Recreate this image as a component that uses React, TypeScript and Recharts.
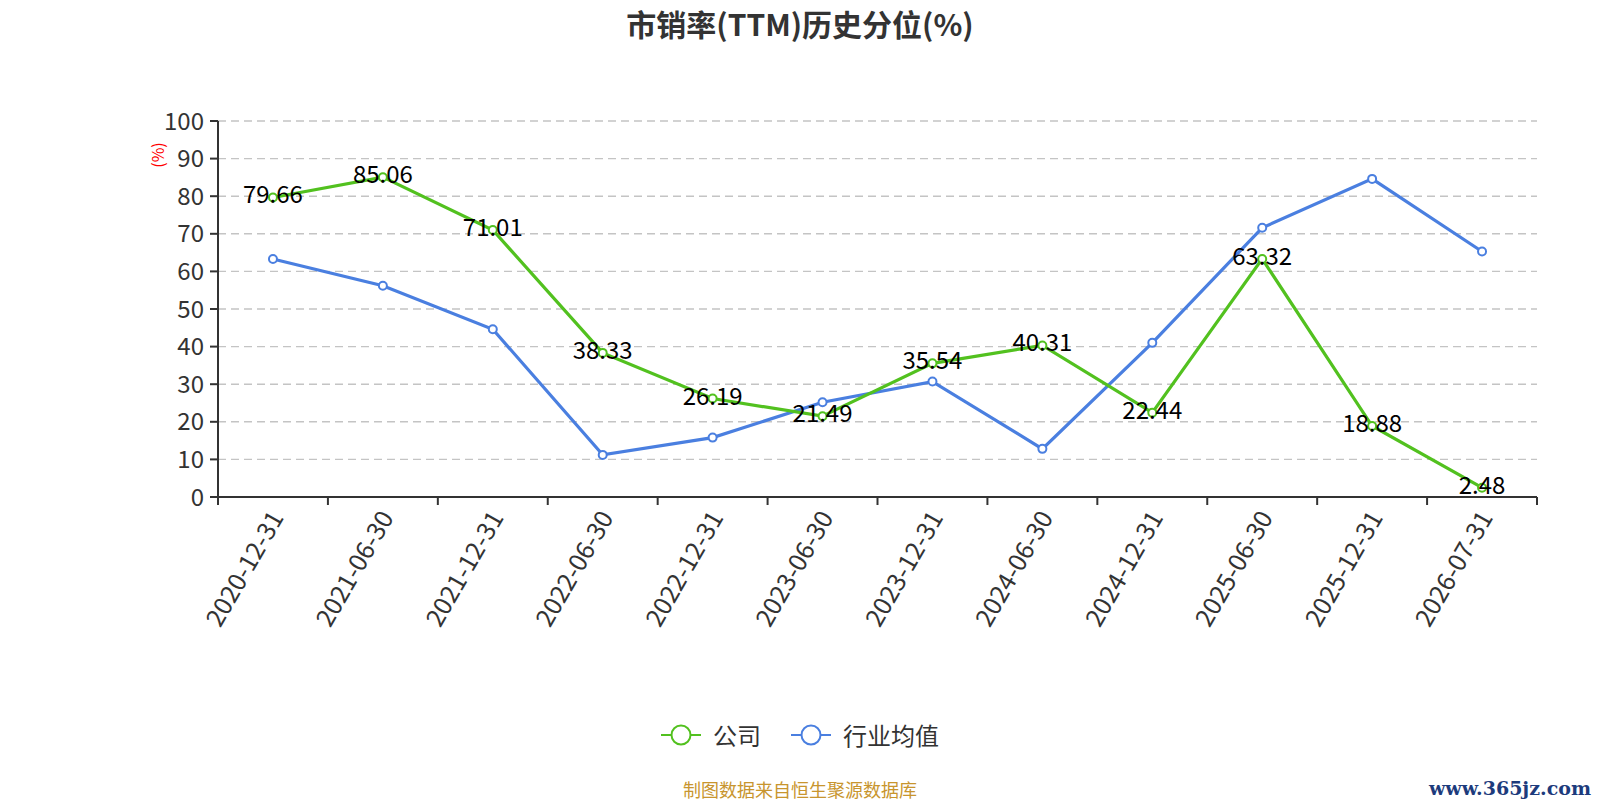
import React from 'react';
import { LineChart, Line, XAxis, YAxis, CartesianGrid, Legend, LabelList } from 'recharts';

const dates = [
  '2020-12-31', '2021-06-30', '2021-12-31', '2022-06-30', '2022-12-31', '2023-06-30',
  '2023-12-31', '2024-06-30', '2024-12-31', '2025-06-30', '2025-12-31', '2026-07-31',
];
const companyValues = [79.66, 85.06, 71.01, 38.33, 26.19, 21.49, 35.54, 40.31, 22.44, 63.32, 18.88, 2.48];
const industryValues = [63.3, 56.2, 44.6, 11.2, 15.8, 25.2, 30.7, 12.8, 41.0, 71.6, 84.6, 65.3];
const yTicks = [0, 10, 20, 30, 40, 50, 60, 70, 80, 90, 100];
const seriesNames = ['公司', '行业均值'];
const seriesColors = ['#52c11f', '#4a7fe0'];

const FONT = '"Noto Sans CJK SC", "Noto Sans", sans-serif';

// x is numeric: category i sits at i + 0.5, so whole numbers are the band edges
const data = dates.map((d, i) => ({
  x: i + 0.5,
  date: d,
  company: companyValues[i],
  industry: industryValues[i],
}));
const xTicks: number[] = [];
for (let i = 0; i <= dates.length * 2; i++) xTicks.push(i / 2);

const XTick = ({ x, y, payload }: any) => {
  const v = payload.value;
  if (Number.isInteger(v)) {
    return <line x1={x} y1={y} x2={x} y2={y + 8} stroke="#333" strokeWidth={2} />;
  }
  const label = dates[Math.floor(v)];
  return (
    <text
      x={x + 4}
      y={y + 16}
      transform={`rotate(-60 ${x + 4} ${y + 16})`}
      textAnchor="end"
      dy="0.35em"
      fontSize={25}
      fill="#333"
      fontFamily={FONT}
    >
      {label}
    </text>
  );
};

const ValueLabel = ({ x, y, value }: any) => (
  <text x={x} y={y + 6} textAnchor="middle" fontSize={24} fill="#000" fontFamily={FONT}>
    {value}
  </text>
);

const LegendContent = () => (
  <div style={{ display: 'flex', justifyContent: 'center', alignItems: 'center', gap: 30, fontFamily: FONT }}>
    {seriesNames.map((name, i) => (
      <div key={name} style={{ display: 'flex', alignItems: 'center', gap: 12 }}>
        <svg width={40} height={24}>
          <line x1={0} y1={12} x2={40} y2={12} stroke={seriesColors[i]} strokeWidth={2} />
          <circle cx={20} cy={12} r={9.5} fill="#fff" stroke={seriesColors[i]} strokeWidth={2} />
        </svg>
        <span style={{ fontSize: 24, color: '#333' }}>{name}</span>
      </div>
    ))}
  </div>
);

export default function App() {
  return (
    <div style={{ position: 'absolute', left: 0, top: 0, width: 1600, height: 800, background: '#fff', fontFamily: FONT }}>
      <div
        style={{
          position: 'absolute', left: 0, top: 3, width: 1600, textAlign: 'center',
          fontSize: 30, fontWeight: 'bold', color: '#333', lineHeight: '40px',
        }}
      >
        市销率(TTM)历史分位(%)
      </div>
      <LineChart width={1600} height={800} data={data} margin={{ top: 121, right: 63, bottom: 153, left: 158 }}>
        <CartesianGrid horizontal vertical={false} stroke="#c4c4c4" strokeWidth={1.4} strokeDasharray="8 5" />
        <XAxis
          dataKey="x"
          type="number"
          domain={[0, dates.length]}
          ticks={xTicks}
          interval={0}
          height={150}
          tickSize={0}
          tickMargin={0}
          tickLine={false}
          axisLine={{ stroke: '#333', strokeWidth: 2 }}
          tick={<XTick />}
        />
        <YAxis
          type="number"
          domain={[0, 100]}
          ticks={yTicks}
          interval={0}
          width={60}
          tickSize={8}
          tickMargin={6}
          axisLine={{ stroke: '#333', strokeWidth: 2 }}
          tickLine={{ stroke: '#333', strokeWidth: 2 }}
          tick={{ fontSize: 24, fill: '#333', fontFamily: FONT }}
          label={({ viewBox }: any) => (
            <text
              x={viewBox.x - 1}
              y={viewBox.y + 34}
              transform={`rotate(-90 ${viewBox.x - 1} ${viewBox.y + 34})`}
              textAnchor="middle"
              dominantBaseline="central"
              fontSize={16}
              fill="#ff0000"
              fontFamily={FONT}
            >
              (%)
            </text>
          )}
        />
        <Legend
          verticalAlign="middle"
          layout="horizontal"
          width={1600}
          wrapperStyle={{ top: 717, left: 0 }}
          content={<LegendContent />}
        />
        <Line
          dataKey="industry"
          name={seriesNames[1]}
          type="linear"
          stroke={seriesColors[1]}
          strokeWidth={3.2}
          dot={{ r: 4, fill: '#fff', stroke: seriesColors[1], strokeWidth: 2 }}
          activeDot={false}
          isAnimationActive={false}
        />
        <Line
          dataKey="company"
          name={seriesNames[0]}
          type="linear"
          stroke={seriesColors[0]}
          strokeWidth={3.2}
          dot={{ r: 4, fill: '#fff', stroke: seriesColors[0], strokeWidth: 2 }}
          activeDot={false}
          isAnimationActive={false}
        >
          <LabelList dataKey="company" content={<ValueLabel />} />
        </Line>
      </LineChart>
      <div
        style={{
          position: 'absolute', left: 0, top: 777, width: 1600, textAlign: 'center',
          fontSize: 18, color: '#c8952e', lineHeight: '24px',
        }}
      >
        制图数据来自恒生聚源数据库
      </div>
      <div
        style={{
          position: 'absolute', right: 9, top: 776, fontSize: 19, fontWeight: 'bold',
          color: '#1d3b7c', fontFamily: '"DejaVu Serif", serif', lineHeight: '24px',
        }}
      >
        www.365jz.com
      </div>
    </div>
  );
}
